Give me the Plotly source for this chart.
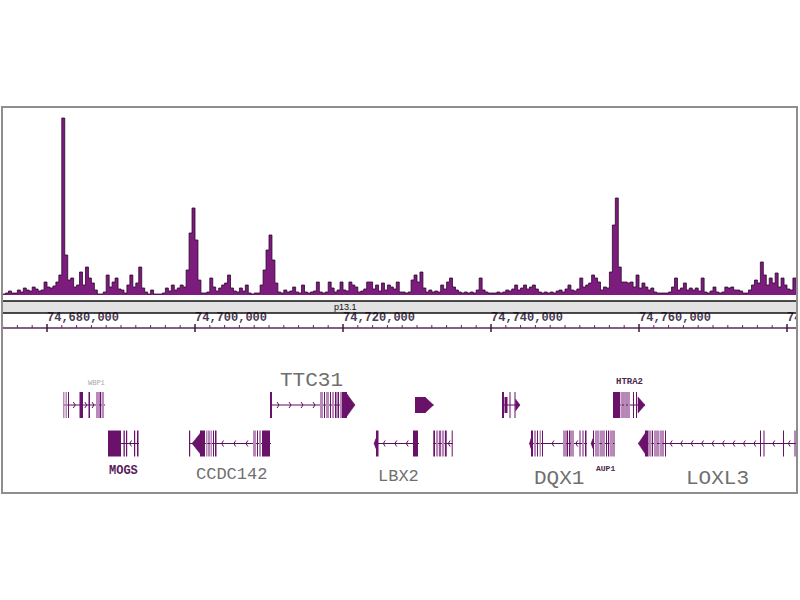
import plotly.graph_objects as go

# ---------------- data ----------------
VIEW_START = 74_673_919
VIEW_END = 74_781_351

BIN_START = 74_674_000
BIN_SIZE = 400
signal = [
    1, 2, 4, 2, 2, 5, 3, 7, 5, 4,
    8, 6, 4, 5, 13, 8, 7, 9, 13, 20,
    177, 40, 15, 17, 8, 10, 23, 10, 28, 17,
    12, 5, 1, 1, 3, 20, 8, 13, 17, 6,
    5, 2, 10, 20, 8, 12, 28, 7, 3, 1,
    5, 1, 1, 1, 2, 7, 4, 10, 5, 7,
    10, 8, 25, 62, 87, 55, 15, 2, 2, 3,
    17, 8, 4, 7, 10, 12, 20, 7, 4, 3,
    7, 4, 10, 2, 1, 2, 2, 10, 25, 45,
    60, 35, 12, 3, 2, 5, 3, 4, 8, 3,
    2, 10, 3, 2, 3, 4, 13, 3, 2, 3,
    13, 7, 3, 5, 13, 5, 4, 13, 10, 8,
    3, 4, 6, 13, 13, 6, 10, 4, 12, 5,
    10, 8, 6, 13, 3, 3, 2, 3, 15, 20,
    13, 23, 7, 3, 5, 3, 4, 3, 10, 6,
    13, 17, 8, 5, 3, 2, 3, 2, 3, 2,
    5, 17, 5, 3, 2, 2, 2, 3, 2, 3,
    5, 4, 6, 10, 5, 7, 10, 6, 8, 10,
    6, 3, 2, 3, 2, 3, 2, 4, 5, 3,
    6, 10, 5, 4, 6, 17, 8, 10, 12, 20,
    17, 13, 5, 8, 7, 23, 70, 97, 28, 13,
    13, 12, 13, 8, 20, 7, 12, 8, 5, 7,
    3, 2, 2, 2, 2, 3, 8, 17, 5, 7,
    12, 5, 7, 5, 7, 4, 17, 3, 2, 4,
    8, 3, 2, 3, 8, 7, 8, 5, 5, 4,
    2, 2, 5, 10, 15, 12, 33, 20, 10, 17,
    12, 22, 8, 17, 10, 6, 5, 17, 10,
]

ruler_major = [74_680_000, 74_700_000, 74_720_000, 74_740_000, 74_760_000, 74_780_000]
ruler_labels = ["74,680,000", "74,700,000", "74,720,000", "74,740,000", "74,760,000", "74,780,000"]
ruler_minor_step = 2_000

band_name = "p13.1"
band_label_pos = 74_720_270

gene_names = ["WBP1", "MOGS", "CCDC142", "TTC31", "LBX2", "LBX2-AS1",
              "PCGF1", "TLX2", "DQX1", "AUP1", "HTRA2", "LOXL3"]
gene_rows = [1, 2, 2, 1, 2, 1, 2, 1, 2, 2, 1, 2]
gene_strands = ["+", "-", "-", "+", "-", "+", "-", "+", "-", "-", "+", "-"]
gene_starts = [74_682_162, 74_688_243, 74_699_189, 74_710_135, 74_724_189, 74_729_730,
               74_732_203, 74_741_486, 74_745_203, 74_753_514, 74_756_486, 74_759_905]
gene_ends = [74_687_838, 74_692_432, 74_710_270, 74_721_622, 74_730_270, 74_732_230,
             74_734_824, 74_743_919, 74_752_973, 74_756_689, 74_760_811, 74_783_000]

# exons: (start, end, kind)  c = coding, u = untranslated, m = narrow
gene_exons = {
    "WBP1": [(74_682_162, 74_682_365, "u"), (74_682_500, 74_682_703, "u"), (74_682_838, 74_682_973, "c"),
             (74_684_392, 74_684_865, "c"), (74_685_608, 74_685_811, "c"), (74_686_622, 74_687_027, "u"),
             (74_687_095, 74_687_297, "c"), (74_687_365, 74_687_703, "u")],
    "MOGS": [(74_688_243, 74_690_000, "c"), (74_690_338, 74_690_514, "c"), (74_690_676, 74_690_838, "c"),
             (74_691_757, 74_691_919, "c"), (74_692_162, 74_692_365, "c")],
    "CCDC142": [(74_699_189, 74_699_351, "c"), (74_700_676, 74_701_351, "c"), (74_701_486, 74_701_689, "u"),
                (74_701_824, 74_701_959, "c"), (74_702_095, 74_702_297, "u"), (74_702_432, 74_702_568, "c"),
                (74_702_703, 74_702_905, "c"), (74_707_838, 74_708_243, "u"), (74_708_378, 74_708_514, "c"),
                (74_708_649, 74_708_919, "u"), (74_709_054, 74_710_135, "c")],
    "TTC31": [(74_710_135, 74_710_405, "c"), (74_716_892, 74_717_297, "u"), (74_717_432, 74_717_568, "c"),
              (74_717_703, 74_718_108, "u"), (74_718_243, 74_718_378, "c"), (74_718_514, 74_718_784, "u"),
              (74_718_919, 74_719_122, "c"), (74_719_257, 74_719_459, "c"), (74_719_595, 74_719_865, "u"),
              (74_719_865, 74_720_541, "c")],
    "LBX2": [(74_724_459, 74_724_797, "c"), (74_729_459, 74_730_135, "c")],
    "LBX2-AS1": [(74_729_730, 74_731_081, "m")],
    "PCGF1": [(74_732_203, 74_732_432, "c"), (74_732_568, 74_732_878, "u"), (74_733_014, 74_733_203, "c"),
              (74_733_338, 74_733_689, "u"), (74_733_784, 74_734_014, "c"), (74_734_689, 74_734_824, "c")],
    "TLX2": [(74_741_486, 74_741_757, "c"), (74_741_824, 74_742_230, "m"), (74_742_500, 74_742_635, "c"),
             (74_743_176, 74_743_311, "c")],
    "DQX1": [(74_745_405, 74_745_676, "c"), (74_745_811, 74_746_081, "u"), (74_746_216, 74_746_351, "c"),
             (74_746_554, 74_746_757, "u"), (74_746_892, 74_747_027, "c"), (74_749_730, 74_750_135, "u"),
             (74_750_203, 74_750_405, "c"), (74_750_541, 74_750_743, "c"), (74_750_811, 74_751_216, "u"),
             (74_751_959, 74_752_095, "c"), (74_752_297, 74_752_568, "u"), (74_752_703, 74_752_905, "c")],
    "AUP1": [(74_753_784, 74_753_919, "c"), (74_754_054, 74_754_662, "u"), (74_754_797, 74_754_932, "c"),
             (74_755_000, 74_755_405, "u"), (74_755_541, 74_755_676, "c"), (74_755_811, 74_755_946, "c"),
             (74_756_014, 74_756_486, "u"), (74_756_554, 74_756_689, "c")],
    "HTRA2": [(74_756_486, 74_757_432, "c"), (74_757_500, 74_757_703, "u"), (74_757_770, 74_757_905, "c"),
              (74_757_973, 74_758_243, "u"), (74_758_311, 74_758_446, "c"), (74_758_514, 74_758_784, "u"),
              (74_759_189, 74_759_324, "c"), (74_759_595, 74_759_730, "c")],
    "LOXL3": [(74_760_811, 74_761_284, "c"), (74_761_284, 74_761_689, "u"), (74_761_757, 74_761_892, "c"),
              (74_762_027, 74_762_432, "u"), (74_762_500, 74_762_635, "c"), (74_762_770, 74_763_108, "u"),
              (74_763_176, 74_763_311, "c"), (74_763_514, 74_763_649, "c"), (74_776_351, 74_776_486, "c"),
              (74_776_824, 74_776_959, "c"), (74_779_459, 74_779_595, "c"), (74_781_014, 74_781_149, "c")],
}

# arrow-shaped exon ends: (base, tip)
gene_arrows = {
    "CCDC142": [(74_700_676, 74_699_595)],
    "TTC31": [(74_720_541, 74_721_622)],
    "LBX2": [(74_724_459, 74_724_189)],
    "LBX2-AS1": [(74_731_081, 74_732_230)],
    "TLX2": [(74_743_311, 74_743_919)],
    "DQX1": [(74_745_405, 74_745_203)],
    "AUP1": [(74_753_784, 74_753_514)],
    "HTRA2": [(74_759_865, 74_760_811)],
    "LOXL3": [(74_760_811, 74_759_905)],
}

label_names = ["WBP1", "MOGS", "CCDC142", "TTC31", "LBX2", "DQX1", "AUP1", "HTRA2", "LOXL3"]
label_pos = [74_686_622, 74_690_270, 74_704_865, 74_715_676, 74_727_432,
             74_749_189, 74_755_405, 74_758_649, 74_770_541]

# ---------------- styles / layout constants ----------------
FIG_W, FIG_H = 800, 600
TOP, BOTTOM = 107, 493          # frame (plot area) top / bottom in screen px
BASELINE = 295                   # signal baseline
SIG_MAX = BASELINE - TOP
ROW_Y = {1: 405, 2: 443.5}
HALF = {"c": 13, "u": 13, "m": 8}
EXON_COLOR = {"c": "#6a116a", "u": "#b98ab9", "m": "#6a116a"}
ARROW_HALF = {"CCDC142": 10, "TTC31": 11, "LBX2": 5, "LBX2-AS1": 8, "TLX2": 6,
              "DQX1": 5, "AUP1": 5, "HTRA2": 8, "LOXL3": 10}
DARK = "#5b0f5b"
MONO = "Liberation Mono, Courier New, monospace"
LABEL_STYLE = {
    "WBP1": dict(y=383, size=7, color="#a8a8a8", bold=False),
    "MOGS": dict(y=471, size=12, color="#5a1a5a", bold=True),
    "CCDC142": dict(y=474, size=17, color="#6f6f6f", bold=False),
    "TTC31": dict(y=380, size=21, color="#6f6f6f", bold=False),
    "LBX2": dict(y=476, size=17, color="#6f6f6f", bold=False),
    "DQX1": dict(y=478, size=21, color="#6f6f6f", bold=False),
    "AUP1": dict(y=468, size=8, color="#4a2a4a", bold=True),
    "HTRA2": dict(y=382, size=9, color="#4a2a4a", bold=True),
    "LOXL3": dict(y=478, size=21, color="#6f6f6f", bold=False),
}

fig = go.Figure()

# ---- signal track ----
edges = [BIN_START + i * BIN_SIZE for i in range(len(signal) + 1)]
fig.add_trace(go.Scatter(
    x=edges, y=signal + [signal[-1]], mode="lines",
    line=dict(shape="hv", color="#2e062e", width=0.8),
    fill="tozeroy", fillcolor="#7c1c7c", yaxis="y", hoverinfo="skip", showlegend=False))

shapes = []

# ---- gene models ----
intron_x, intron_y = [], []
chev_x, chev_y = [], []
CHEV_W = 260
for name, row, strand, g0, g1 in zip(gene_names, gene_rows, gene_strands, gene_starts, gene_ends):
    yc = ROW_Y[row]
    intron_x += [g0, g1, None]
    intron_y += [yc, yc, None]
    covered = [(a, b) for a, b, _ in gene_exons.get(name, [])]
    for base, tip in gene_arrows.get(name, []):
        covered.append((min(base, tip), max(base, tip)))
    covered.sort()
    cur = g0
    for a, b in covered + [(g1, g1)]:
        if a - cur > 600:
            n = max(1, int((a - cur) / 1400))
            for k in range(n):
                p = cur + (a - cur) * (k + 0.5) / n
                if strand == "+":
                    chev_x += [p - CHEV_W / 2, p + CHEV_W / 2, p - CHEV_W / 2, None]
                else:
                    chev_x += [p + CHEV_W / 2, p - CHEV_W / 2, p + CHEV_W / 2, None]
                chev_y += [yc - 3, yc, yc + 3, None]
        cur = max(cur, b)
    for a, b, kind in gene_exons.get(name, []):
        shapes.append(dict(type="rect", xref="x", yref="y2", x0=a, x1=b,
                           y0=yc - HALF[kind], y1=yc + HALF[kind],
                           fillcolor=EXON_COLOR[kind], line=dict(width=0), layer="above"))
    for base, tip in gene_arrows.get(name, []):
        h = ARROW_HALF[name]
        shapes.append(dict(type="path", xref="x", yref="y2",
                           path=f"M {base},{yc - h} L {tip},{yc} L {base},{yc + h} Z",
                           fillcolor=EXON_COLOR["c"], line=dict(color=EXON_COLOR["c"], width=0.5),
                           layer="above"))

fig.add_trace(go.Scatter(x=intron_x, y=intron_y, mode="lines", yaxis="y2",
                         line=dict(color=DARK, width=1), hoverinfo="skip", showlegend=False))
fig.add_trace(go.Scatter(x=chev_x, y=chev_y, mode="lines", yaxis="y2",
                         line=dict(color=DARK, width=1), hoverinfo="skip", showlegend=False))

# ---- ideogram band ----
shapes.append(dict(type="rect", xref="x", yref="y2", x0=VIEW_START, x1=VIEW_END, y0=301, y1=313,
                   fillcolor="#e2e2e2", line=dict(width=0), layer="below"))
for yy in (301, 313):
    shapes.append(dict(type="line", xref="x", yref="y2", x0=VIEW_START, x1=VIEW_END, y0=yy, y1=yy,
                       line=dict(color="#111111", width=1.6)))

# ---- ruler ----
shapes.append(dict(type="line", xref="x", yref="y2", x0=VIEW_START, x1=VIEW_END, y0=328, y1=328,
                   line=dict(color="#5a2a5a", width=1.5)))
pos = ruler_major[0] - 3 * ruler_minor_step
while pos < VIEW_END:
    if pos > VIEW_START:
        if pos in ruler_major:
            shapes.append(dict(type="line", xref="x", yref="y2", x0=pos, x1=pos, y0=324, y1=332,
                               line=dict(color="#3a1a3a", width=1.5)))
        else:
            shapes.append(dict(type="line", xref="x", yref="y2", x0=pos, x1=pos, y0=325, y1=328,
                               line=dict(color="#5a2a5a", width=1)))
    pos += ruler_minor_step

fig.add_trace(go.Scatter(x=ruler_major, y=[318] * len(ruler_major), mode="text", yaxis="y2",
                         text=[f"<b>{t}</b>" for t in ruler_labels], textposition="middle right",
                         textfont=dict(family=MONO, size=12, color="#4a3a55"),
                         cliponaxis=True, hoverinfo="skip", showlegend=False))

# ---- frame ----
shapes.append(dict(type="rect", xref="paper", yref="paper", x0=0, x1=1, y0=0, y1=1,
                   line=dict(color="#8e8e8e", width=2), fillcolor="rgba(0,0,0,0)"))

annotations = [dict(x=band_label_pos, y=307, xref="x", yref="y2", text=band_name, showarrow=False,
                    font=dict(family="Liberation Sans, Arial", size=9, color="#111111"))]
for name, lp in zip(label_names, label_pos):
    st = LABEL_STYLE[name]
    txt = f"<b>{name}</b>" if st["bold"] else name
    annotations.append(dict(x=lp, y=st["y"], xref="x", yref="y2", text=txt, showarrow=False,
                            font=dict(family=MONO, size=st["size"], color=st["color"])))

fig.update_layout(
    width=FIG_W, height=FIG_H,
    margin=dict(l=2, r=3, t=TOP, b=FIG_H - BOTTOM, pad=0),
    paper_bgcolor="white", plot_bgcolor="rgba(0,0,0,0)",
    showlegend=False,
    xaxis=dict(range=[VIEW_START, VIEW_END], visible=False, fixedrange=True),
    yaxis=dict(domain=[(BOTTOM - BASELINE) / (BOTTOM - TOP), 1], range=[0, SIG_MAX],
               visible=False, fixedrange=True),
    yaxis2=dict(domain=[0, 1], range=[BOTTOM, TOP], anchor="x", visible=False, fixedrange=True),
    shapes=shapes, annotations=annotations,
)

fig.write_html("out.html", config={"displayModeBar": False},
               post_script="document.body.style.margin='0';document.body.style.padding='0';")
